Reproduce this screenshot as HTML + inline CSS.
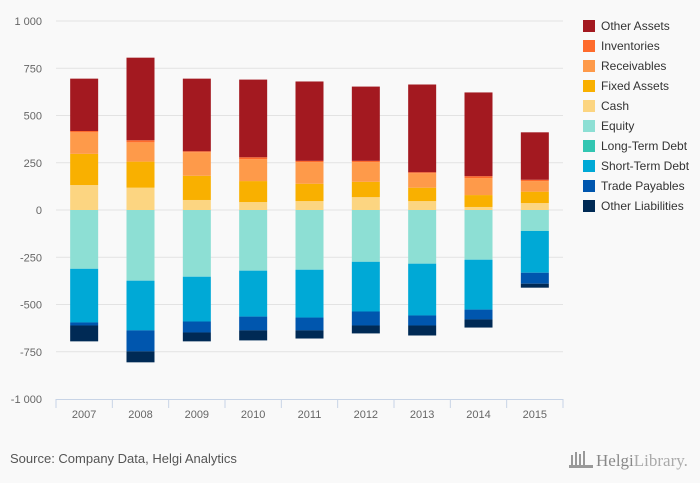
<!DOCTYPE html>
<html><head><meta charset="utf-8"><style>
html,body{margin:0;padding:0;background:#f9f9f9;}
body{width:700px;height:483px;overflow:hidden;font-family:"Liberation Sans",sans-serif;}
</style></head><body>
<svg id="chart" width="700" height="483" xmlns="http://www.w3.org/2000/svg" style="display:block">
<rect width="700" height="483" fill="#f9f9f9"/>
<g id="grid"></g><g id="bars"></g><g id="axes"></g><g id="legend"></g>
<text x="10" y="463" font-size="13" fill="#555">Source: Company Data, Helgi Analytics</text>
<g fill="#999">
<rect x="571" y="455" width="2" height="10"/><rect x="575" y="452" width="2" height="13"/><rect x="579" y="454" width="2" height="11"/><rect x="583" y="451" width="2" height="14"/><rect x="569" y="465" width="24" height="3"/>
<text x="596" y="466" font-family="Liberation Serif,serif" font-size="17" fill="#888">Helgi<tspan fill="#aaa">Library.</tspan></text>
</g>
</svg>
<script>
const years=['2007','2008','2009','2010','2011','2012','2013','2014','2015'];
const cash=[132,118,53,42,47,68,47,16,37];
const fixedAssets=[165,138,128,111,92,81,71,63,60];
const receivables=[114,102,125,116,114,104,77,90,56];
const inventories=[7,11,5,10,7,7,5,10,7];
const otherAssets=[277,437,384,411,420,393,464,443,251];
const equity=[311,374,353,321,316,274,284,263,111];
const longTermDebt=[0,0,0,0,0,0,0,0,0];
const shortTermDebt=[284,263,237,243,253,263,274,264,221];
const tradePayables=[16,111,58,73,68,74,53,52,58];
const otherLiabilities=[84,58,47,53,43,42,53,43,21];
const yTicks=[1000,750,500,250,0,-250,-500,-750,-1000];
const yTickLabels=['1 000','750','500','250','0','-250','-500','-750','-1 000'];

const NS='http://www.w3.org/2000/svg';
const x0=56,x1=563,yTop=21,yBot=399;
const bw=(x1-x0)/years.length;
function y(v){return 210-(v/1000)*189;}
function mk(t,a,p){const e=document.createElementNS(NS,t);for(const k in a)e.setAttribute(k,a[k]);p.appendChild(e);return e;}
const grid=document.getElementById('grid'),axes=document.getElementById('axes'),bars=document.getElementById('bars'),legend=document.getElementById('legend');
yTicks.forEach((v,i)=>{
  if(v!==-1000){const l=mk('line',{x1:x0,x2:x1,y1:y(v),y2:y(v),stroke:'#e3e3e3','stroke-width':1},grid);
  
  }
  const t=mk('text',{x:42,y:y(v)+4,'text-anchor':'end','font-size':11,fill:'#666'},axes);
  t.textContent=yTickLabels[i];
  
  
});
const al=mk('line',{x1:x0,x2:x1,y1:yBot+0.5,y2:yBot+0.5,stroke:'#c8d4e6','stroke-width':1},axes);


for(let i=0;i<=years.length;i++){
  const tk=mk('line',{x1:x0+i*bw,x2:x0+i*bw,y1:yBot,y2:yBot+9,stroke:'#c8d4e6'},axes);
  
  
}
years.forEach((yr,i)=>{
  const t=mk('text',{x:x0+(i+0.5)*bw,y:418,'text-anchor':'middle','font-size':11,fill:'#666'},axes);
  t.textContent=yr;
  
  
});
const pos=[['Cash',cash,'#fcd581'],['Fixed Assets',fixedAssets,'#f9b000'],['Receivables',receivables,'#fe9a4a'],['Inventories',inventories,'#fe6b2c'],['Other Assets',otherAssets,'#a31920']];
const neg=[['Equity',equity,'#8ddfd4'],['Long-Term Debt',longTermDebt,'#33c6b2'],['Short-Term Debt',shortTermDebt,'#00a9d6'],['Trade Payables',tradePayables,'#0056ae'],['Other Liabilities',otherLiabilities,'#002a55']];
years.forEach((yr,i)=>{
  const bx=x0+(i+0.5)*bw-14;
  let acc=0;
  pos.forEach(s=>{const v=s[1][i];const r=mk('rect',{x:bx,y:y(acc+v),width:28,height:y(acc)-y(acc+v),fill:s[2]},bars);
    
    acc+=v;});
  acc=0;
  neg.forEach(s=>{const v=s[1][i];const r=mk('rect',{x:bx,y:y(acc),width:28,height:y(acc-v)-y(acc),fill:s[2]},bars);
    
    acc-=v;});
});
const leg=[pos[4],pos[3],pos[2],pos[1],pos[0],neg[0],neg[1],neg[2],neg[3],neg[4]];
leg.forEach((s,i)=>{
  const g=mk('g',{},legend);
  
  
  mk('rect',{x:583,y:20+i*20,width:12,height:12,fill:s[2]},g);
  const t=mk('text',{x:601,y:30+i*20,'font-size':12,fill:'#333'},g);
  t.textContent=s[0];
});
</script>
</body></html>
